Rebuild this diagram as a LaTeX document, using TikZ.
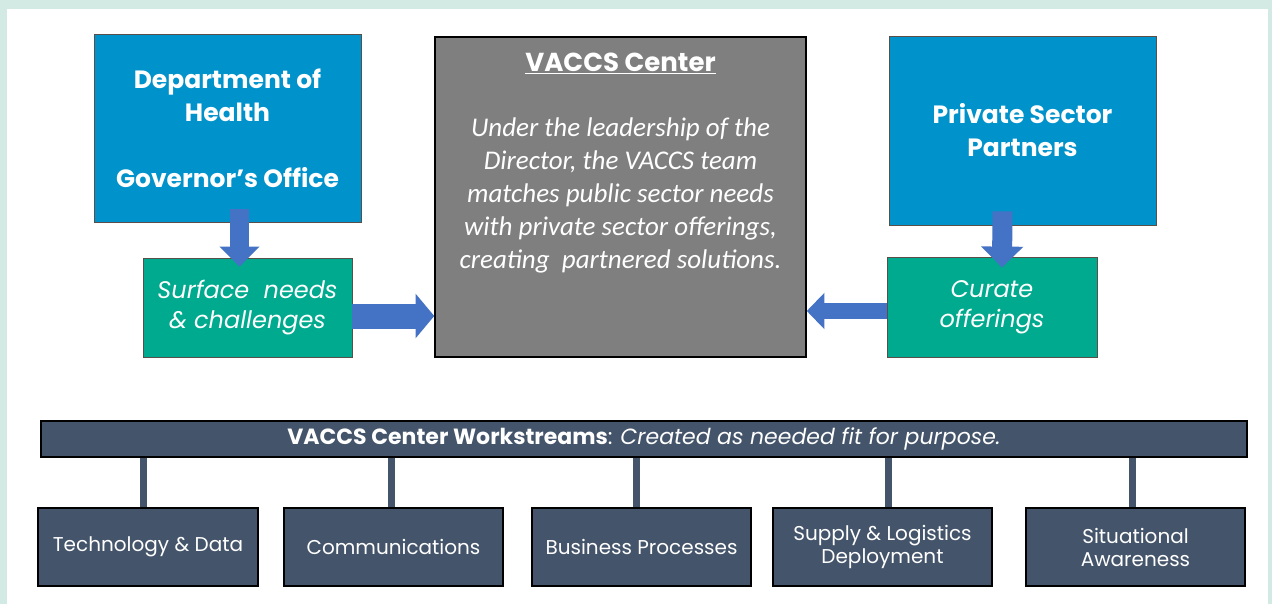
\documentclass[tikz,border=0pt]{standalone}
\usepackage{fontspec}
\setmainfont{Poppins}
\newfontfamily\calib{Carlito}
\usetikzlibrary{arrows.meta, positioning, calc}
\definecolor{mint}{HTML}{D3E9E3}
\definecolor{govblue}{HTML}{0092CA}
\definecolor{needteal}{HTML}{00AA8E}
\definecolor{centergray}{HTML}{7F7F7F}
\definecolor{arrowblue}{HTML}{4472C4}
\definecolor{arrowedge}{HTML}{2F528F}
\definecolor{slate}{HTML}{44546A}
\definecolor{boxedge}{HTML}{5A4E48}

\begin{document}
\begin{tikzpicture}[x=1pt, y=-1pt,
  govbox/.style={draw=boxedge, line width=0.8pt, fill=govblue, text=white, inner sep=0pt,
    minimum width=267pt, minimum height=188pt, align=center,
    font=\fontsize{25}{33}\selectfont\bfseries},
  needbox/.style={draw=boxedge, line width=0.8pt, fill=needteal, text=white, inner sep=0pt,
    minimum width=209pt, minimum height=99pt, align=center,
    font=\fontsize{24}{30}\selectfont\itshape},
  centerbox/.style={draw=black, line width=1.5pt, fill=centergray, text=white, inner sep=0pt},
  streambar/.style={draw=black, line width=1.2pt, fill=slate, text=white, inner sep=0pt,
    minimum width=1206pt, minimum height=36pt, font=\fontsize{22}{26}\selectfont},
  streambox/.style={draw=black, line width=1.2pt, fill=slate, text=white, inner sep=0pt,
    minimum width=219pt, minimum height=78pt, align=center, font=\fontsize{20}{23}\selectfont},
  stem/.style={draw=slate, line width=7pt},
  blockarrow/.style={draw=arrowblue, line width=19pt, -{Triangle[width=0pt 2.05, length=0pt 1.05]}}
]
\fill[mint] (0,0) rectangle (1272,604);
\fill[white] (7,9) rectangle (1268,604);
\useasboundingbox (0,0) rectangle (1272,604);

% top row
\node[govbox] (doh) at (227.5,128) {Department of\\Health\\[33pt]Governor’s Office};
\node[needbox] (surface) at (247.5,307.5) {\raisebox{-4pt}{Surface\ \ needs}\\\raisebox{-4pt}{\& challenges}};
\node[centerbox] (vaccs) at (620.5,197) {%
  \begin{minipage}[c][320pt][t]{371pt}\centering
  \vspace*{16pt}{\fontsize{26}{31}\selectfont\bfseries\underline{VACCS Center}}\par
  \vspace{32pt}{\calib\itshape\fontsize{27}{33}\selectfont
  Under the leadership of the\\Director, the VACCS team\\matches public sector needs\\
  with private sector offerings,\\creating\ \ partnered solutions.\par}
  \end{minipage}};
\node[govbox, minimum height=189pt] (private) at (1022.5,130.5) {Private Sector\\Partners};
\node[needbox, minimum width=210pt, minimum height=100pt] (curate) at (992,307) {\raisebox{-4pt}{Curate}\\\raisebox{-4pt}{offerings}};

\draw[blockarrow] ([xshift=12pt,yshift=13pt]doh.south) -- ([xshift=-8pt,yshift=-9pt]surface.north);
\draw[blockarrow, line width=25pt, -{Triangle[width=0pt 1.75, length=0pt 0.75]}]
  ([yshift=-8.5pt]surface.east) -- ([yshift=-8.5pt]surface.east -| vaccs.west);
\draw[blockarrow, line width=20pt] ([xshift=-20pt,yshift=14pt]private.south) -- ([xshift=10pt,yshift=-11pt]curate.north);
\draw[blockarrow, line width=16pt, -{Triangle[width=0pt 2.2, length=0pt 1.1]}]
  ([yshift=-4pt]curate.west) -- ([yshift=-4pt]curate.west -| vaccs.east);

% workstreams
\node[streambar] (bar) at (644,439) {{\bfseries VACCS Center Workstreams}: {\itshape Created as needed fit for purpose.}};
\node[streambox, minimum width=220pt] (tech) at (148,547) {\raisebox{-4pt}{Technology \& Data}};
\node[streambox, right=24.8pt of tech] (comms) {\raisebox{-2pt}{Communications}};
\node[streambox, right=27.8pt of comms] (biz) {\raisebox{-4pt}{Business Processes}};
\node[streambox, right=20.8pt of biz] (supply) {Supply \& Logistics\\Deployment};
\node[streambox, right=32.8pt of supply] (aware) {Situational\\Awareness};

\foreach \b/\dx in {tech/-5, comms/-2, biz/-5, supply/6, aware/-3}
  \draw[stem] ([xshift=\dx pt]\b.north) -- ([xshift=\dx pt]\b.north |- bar.south);

\end{tikzpicture}
\end{document}
